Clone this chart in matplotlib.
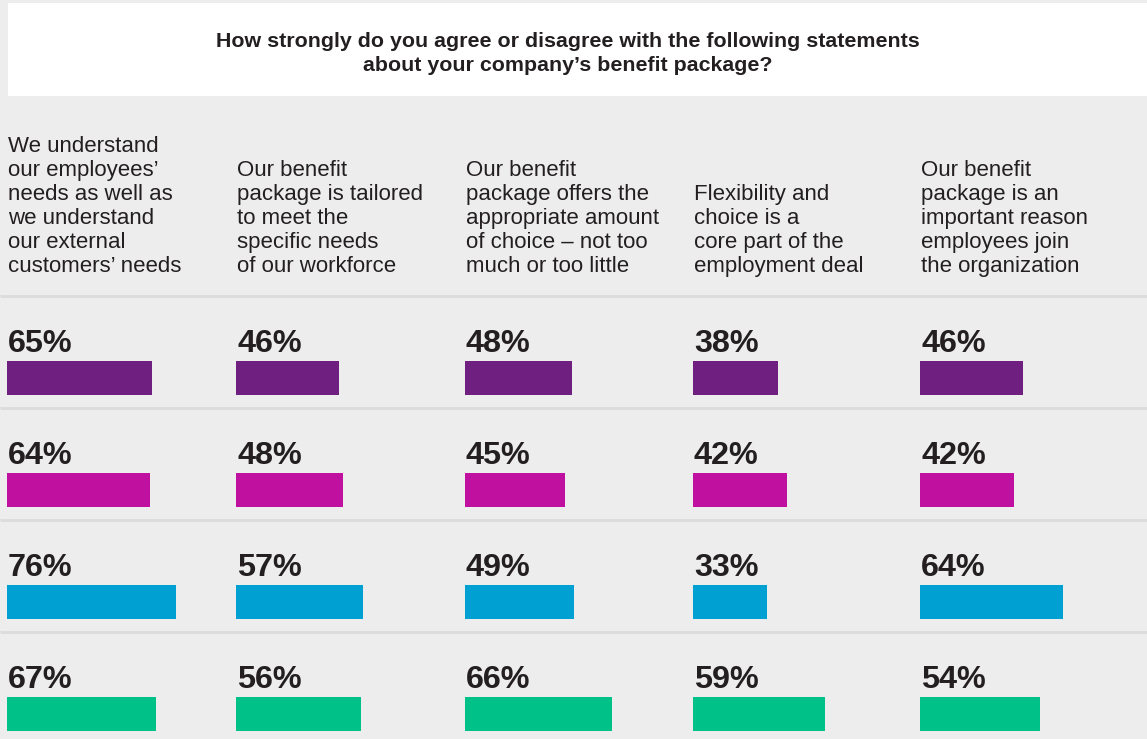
# benefit package agreement chart
import matplotlib.pyplot as plt
from matplotlib.patches import Rectangle

plt.rcParams['font.family'] = ['Liberation Sans', 'DejaVu Sans']

title = ("How strongly do you agree or disagree with the following statements\n"
         "about your company\u2019s benefit package?")

statements = [
    ["We understand", "our employees\u2019", "needs as well as",
     "we understand", "our external", "customers\u2019 needs"],
    ["Our benefit", "package is tailored", "to meet the",
     "specific needs", "of our workforce"],
    ["Our benefit", "package offers the", "appropriate amount",
     "of choice \u2013 not too", "much or too little"],
    ["Flexibility and", "choice is a", "core part of the", "employment deal"],
    ["Our benefit", "package is an", "important reason",
     "employees join", "the organization"],
]

# one list per row (series), one value per statement
series_1 = [65, 46, 48, 38, 46]
series_2 = [64, 48, 45, 42, 42]
series_3 = [76, 57, 49, 33, 64]
series_4 = [67, 56, 66, 59, 54]
series = [series_1, series_2, series_3, series_4]
colors = ['#6f1f80', '#c0109f', '#00a0d3', '#00c289']

BG = '#ededed'
TXT = '#231f20'
W, H = 1147, 739
col_left = [7, 236, 465, 693, 920]
px_per_pct = 2.23
header_base = 272
row_top = 296
row_h = 112

fig = plt.figure(figsize=(W / 100, H / 100), dpi=100, facecolor=BG)
ax = fig.add_axes([0, 0, 1, 1])
ax.set_xlim(0, W)
ax.set_ylim(H, 0)
ax.set_facecolor(BG)
ax.axis('off')

# title box
ax.add_patch(Rectangle((8, 3), W - 8, 93, facecolor='white', edgecolor='none'))
for i, line in enumerate(title.split('\n')):
    ax.text(568, 47 + 24 * i, line, ha='center', va='baseline',
            fontsize=15.4, fontweight='bold', color=TXT)

# statement headers, bottom aligned
for c, lines in enumerate(statements):
    n = len(lines)
    for i, line in enumerate(lines):
        ax.text(col_left[c] + 1, header_base - 24 * (n - 1 - i), line,
                ha='left', va='baseline', fontsize=16, color=TXT)

# rows of bars
for r, vals in enumerate(series):
    top = row_top + r * row_h
    ax.plot([0, W], [top, top], color='#dcdcdc', lw=2, solid_capstyle='butt')
    ax.barh([top + 82] * len(vals), [v * px_per_pct for v in vals],
            left=col_left, height=34, color=colors[r])
    for c, v in enumerate(vals):
        ax.text(col_left[c] + 1, top + 56, f"{v}%", ha='left', va='baseline',
                fontsize=23.3, fontweight='bold', color=TXT)

fig.savefig('out.png', dpi=100, facecolor=BG)
